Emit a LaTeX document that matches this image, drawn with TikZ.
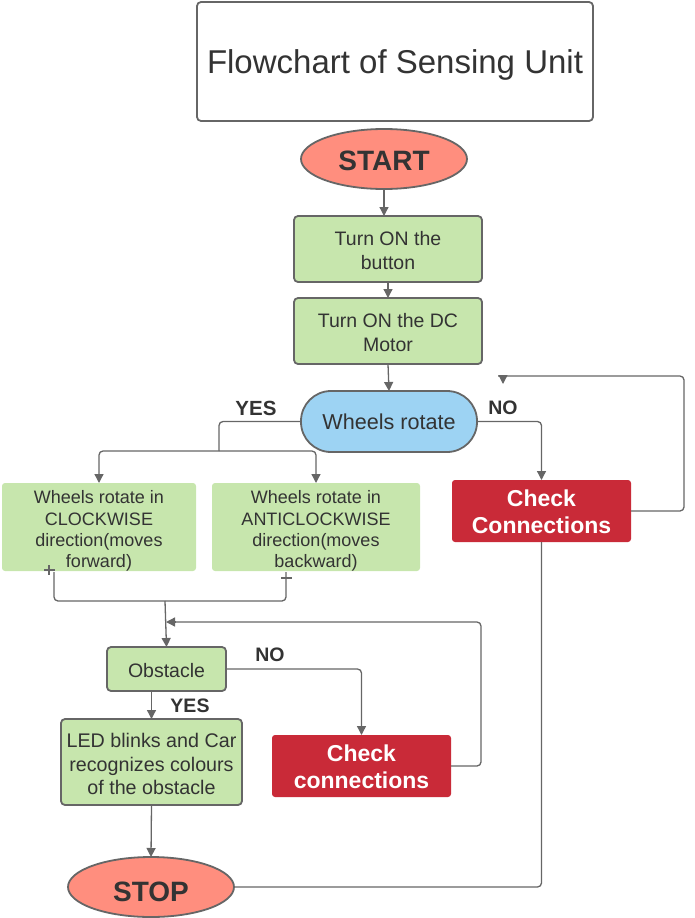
\documentclass[tikz,border=0pt]{standalone}
\usepackage{fontspec}
\setmainfont{Liberation Sans}
\usetikzlibrary{arrows.meta,shapes.geometric}
\definecolor{linegray}{HTML}{666666}
\definecolor{txtgray}{HTML}{333333}
\definecolor{boxgreen}{HTML}{C7E6AD}
\definecolor{capblue}{HTML}{9DD3F3}
\definecolor{alertred}{HTML}{C92A38}
\definecolor{salmon}{HTML}{FF8E7E}
\tikzset{
  base/.style={inner sep=0pt, outer sep=0pt, align=center, text=txtgray},
  greenbox/.style={base, draw=linegray, line width=1.8pt, fill=boxgreen, rounded corners=4pt},
  flatbox/.style={base, fill=boxgreen, rounded corners=3pt},
  redbox/.style={base, fill=alertred, rounded corners=3pt, minimum width=179pt, minimum height=62pt},
  terminal/.style={base, ellipse, draw=linegray, line width=1.8pt, fill=salmon,
     minimum width=166pt, minimum height=60pt},
  gtxt/.style={base, font=\fontsize{19.5}{24}\selectfont},
  ftxt/.style={base, font=\fontsize{18}{21.3}\selectfont},
  rtxt/.style={base, text=white, font=\bfseries\fontsize{23}{27}\selectfont},
  ttxt/.style={base, font=\bfseries\fontsize{28}{30}\selectfont},
  conn/.style={draw=linegray, line width=1.3pt, rounded corners=4pt},
  tiponly/.style={draw=linegray, line width=1.3pt, -{Triangle[width=9pt,length=9pt]}},
  arr/.style={conn, -{Triangle[width=9pt,length=9pt]}},
  lbl/.style={base, font=\bfseries\fontsize{19.5}{22}\selectfont}
}
\begin{document}
\begin{tikzpicture}[x=1pt,y=-1pt]
\useasboundingbox (0,0) rectangle (695,918);
% shapes
\node[base, draw=linegray, line width=1.8pt, rounded corners=4pt, minimum width=396pt, minimum height=119pt] (title) at (395,61.5) {};
\node[terminal] (start) at (384,159) {};
\node[greenbox, minimum width=188pt, minimum height=66pt] (btn) at (388,249) {};
\node[greenbox, minimum width=188pt, minimum height=66pt] (dc) at (388,331) {};
\node[base, draw=linegray, line width=1.8pt, fill=capblue, rounded corners=30pt, minimum width=176pt,
  minimum height=61pt] (wheels) at (389,421.5) {};
\node[flatbox, minimum width=194pt, minimum height=88pt] (cw) at (99,527) {};
\node[flatbox, minimum width=208pt, minimum height=88pt] (acw) at (316,527) {};
\node[redbox] (cc1) at (541.5,511) {};
\node[greenbox, minimum width=119pt, minimum height=44pt] (obst) at (166.5,669) {};
\node[redbox] (cc2) at (361.5,766) {};
\node[greenbox, minimum width=181pt, minimum height=86pt] (led) at (151.5,762) {};
\node[terminal] (stop) at (151,887) {};
% texts
\node[base, font=\fontsize{33}{36}\selectfont] (titleT) at ([yshift=-3pt]title.center) {Flowchart of Sensing Unit};
\node[ttxt] (startT) at ([yshift=-1.5pt]start.center) {START};
\node[gtxt] (btnT) at ([yshift=-2pt]btn.center) {Turn ON the\\button};
\node[gtxt] (dcT) at ([yshift=-2pt]dc.center) {Turn ON the DC\\Motor};
\node[base, font=\fontsize{21.6}{24}\selectfont] (wheelsT) at ([yshift=-0.5pt]wheels.center) {Wheels rotate};
\node[ftxt] (cwT) at ([yshift=-4pt]cw.center) {Wheels rotate in\\CLOCKWISE\\direction(moves\\forward)};
\node[ftxt] (acwT) at ([yshift=-4pt]acw.center) {Wheels rotate in\\ANTICLOCKWISE\\direction(moves\\backward)};
\node[rtxt] (cc1T) at ([yshift=-1pt]cc1.center) {Check\\Connections};
\node[gtxt] (obstT) at ([yshift=-2pt]obst.center) {Obstacle};
\node[rtxt] (cc2T) at ([yshift=-1pt]cc2.center) {Check\\connections};
\node[base, font=\fontsize{19.7}{23.5}\selectfont] (ledT) at ([yshift=-2pt]led.center) {LED blinks and Car\\recognizes colours\\of the obstacle};
\node[ttxt] (stopT) at ([yshift=-5pt]stop.center) {STOP};
% labels
\node[lbl, font=\bfseries\fontsize{20.5}{22}\selectfont] (yes1) at (256,408) {YES};
\node[lbl] (no1) at (503,408) {NO};
\node[lbl] (no2) at (270,655) {NO};
\node[lbl] (yes2) at (190,706) {YES};
% coordinates
\coordinate (ysplit) at (219,451);
\coordinate (fbc) at (503,375);
\coordinate (fb1) at (503,384);
\coordinate (cwend) at (54,572);
\coordinate (acwend) at (286,572);
\coordinate (join) at (165,601);
\coordinate (fb2) at (166,622);
% connectors
\draw[arr] (start.south) -- (start.south |- btn.north);
\draw[arr] (btn.south) -- (dc.north);
\draw[arr] (dc.south) -- (wheels.north);
\draw[conn] (wheels.west) -| (ysplit);
\draw[arr] (ysplit) -| (cw.north);
\draw[arr] (ysplit) -| (acw.north);
\draw[arr] (wheels.east) -| (cc1.north);
\draw[conn] (cc1.east) -- (684,511) -- (684,376) -- (498,376);
\draw[tiponly] (fbc) -- (fb1);
\draw[conn] (cc1.south) |- (stop.east);
\draw[conn] (cwend) |- (join) -| (acwend);
\draw[linegray, line width=1.3pt] (44,570) -- (55,570) (49,565) -- (49,575);
\draw[linegray, line width=1.3pt] (281,578) -- (292,578);
\draw[arr] (join) -- (obst.north);
\draw[conn] (cc2.east) -- (481,766) -- (481,622) -- (172,622);
\draw[tiponly] (176,622) -- (fb2);
\draw[arr] (obst.east) -| (cc2.north);
\draw[arr] (led.north |- obst.south) -- (led.north);
\draw[arr] (led.south) -- (stop.north);
\end{tikzpicture}
\end{document}
